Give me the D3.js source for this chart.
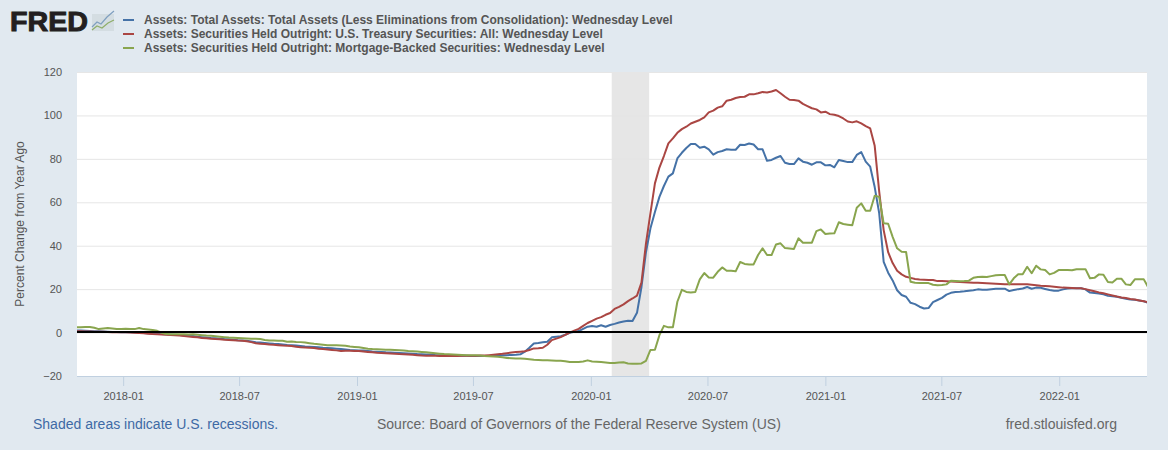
<!DOCTYPE html>
<html>
<head>
<meta charset="utf-8">
<script src="https://cdnjs.cloudflare.com/ajax/libs/d3/7.8.5/d3.min.js"></script>
<style>
html,body{margin:0;padding:0;background:#e1e9f0;}
svg{display:block;font-family:"Liberation Sans",Arial,sans-serif;}
</style>
</head>
<body>
<svg id="c" width="1168" height="450"></svg>
<script>
const firstWeek = "2017-10-20";
const weekCount = 240;
const domainDates = ["2017-10-21", "2022-05-18"];
const recession = ["2020-02-01", "2020-04-01"];
const xTickLabels = ["2018-01","2018-07","2019-01","2019-07","2020-01","2020-07","2021-01","2021-07","2022-01"];
const yTicks = [-20,0,20,40,60,80,100,120];
const seriesNames = [
 "Assets: Total Assets: Total Assets (Less Eliminations from Consolidation): Wednesday Level",
 "Assets: Securities Held Outright: U.S. Treasury Securities: All: Wednesday Level",
 "Assets: Securities Held Outright: Mortgage-Backed Securities: Wednesday Level"];
const seriesColors = ["#4572a7","#aa4643","#89a54e"];

const totalAssets = [
0.9,0.9,0.8,0.7,0.6,0.6,0.5,0.4,0.3,0.3,
0.2,0.1,0.1,0,-0.1,-0.2,-0.3,-0.5,-0.6,-0.7,
-0.8,-0.9,-1.0,-1.1,-1.3,-1.4,-1.6,-1.9,-2.1,-2.3,
-2.5,-2.6,-2.8,-3,-3.1,-3.3,-3.5,-3.6,-3.8,-4.1,
-4.4,-4.6,-4.8,-5,-5.2,-5.3,-5.5,-5.7,-5.8,-6,
-6.2,-6.4,-6.5,-6.6,-6.8,-7,-7.1,-7.2,-7.4,-7.6,
-7.8,-8,-8.1,-8.2,-8.3,-8.5,-8.7,-8.8,-8.9,-9.1,
-9.2,-9.3,-9.4,-9.5,-9.6,-9.7,-9.9,-10,-10.1,-10.1,
-10.3,-10.4,-10.5,-10.5,-10.6,-10.6,-10.7,-10.7,-10.8,-10.8,
-10.8,-10.8,-10.8,-10.7,-10.6,-10.5,-10.4,-10.3,-10.2,-10,
-8.8,-7,-5,-4.8,-4.5,-4.2,-2.2,-1.9,-1.7,-1,
-0.1,0.4,0.7,1.7,2.7,3,2.7,3.4,2.7,3.5,
4,4.6,5.1,5.4,5.3,9.1,21,37,48,55.5,
62.5,67.5,71.8,73.3,80.2,82.8,85,86.8,86.8,85.1,
85.6,84.4,81.9,83.1,83.6,84.4,84.2,84.2,86.5,86.4,
87.1,86.6,84.4,84.4,79.1,79.5,80.5,81.3,78.2,77.6,
77.6,80.2,78.7,78.2,77.3,78.4,78.4,77,77.2,76.1,
79.5,79,78.5,78.5,81.8,83.1,78.7,76.4,67,55,
32.6,27.6,24,19.5,17.3,16.5,13.7,13.1,11.9,11.1,
11.3,14,15,16,17.5,18.3,18.7,18.8,19,19.3,
19.5,19.9,19.7,19.7,20,20.2,20.2,20.2,19.1,19.6,
20,20.3,21,20.2,20.7,20.6,20.1,19.6,19.3,19.3,
19.9,20.3,20.4,20.4,20.4,19.9,18.4,18.2,18,17.6,
16.9,16.7,16.5,16,15.6,15.2,15.1,14.8,14.4,13.6];

const treasury = [
0.6,0.6,0.5,0.5,0.4,0.4,0.4,0.3,0.2,0.2,
0.1,0.1,0,-0.1,-0.2,-0.3,-0.5,-0.7,-0.8,-0.9,
-1,-1.1,-1.2,-1.3,-1.6,-1.8,-2,-2.2,-2.5,-2.6,
-2.8,-3,-3.1,-3.3,-3.4,-3.5,-3.7,-3.8,-4,-4.4,
-4.9,-5.1,-5.3,-5.5,-5.6,-5.8,-6,-6.1,-6.2,-6.5,
-6.8,-6.9,-7,-7.1,-7.4,-7.6,-7.8,-8,-8.2,-8.5,
-8.4,-8.4,-8.5,-8.5,-8.7,-8.9,-9.1,-9.3,-9.4,-9.5,
-9.6,-9.7,-9.9,-10,-10.1,-10.2,-10.4,-10.6,-10.7,-10.7,
-10.7,-10.8,-10.8,-10.8,-10.8,-10.8,-10.7,-10.7,-10.7,-10.7,
-10.6,-10.6,-10.4,-10.2,-10,-9.8,-9.5,-9.2,-9,-8.8,
-8.6,-8,-7.3,-7.2,-7,-5.6,-3.5,-2.8,-2.1,-1.1,
0,0.9,1.7,3.1,4.4,5.4,6.4,7.1,8.2,9,
10.9,11.8,13,14.5,15.7,17,23,41,55,68.7,
76,81.3,87.1,89.4,92,93.7,94.8,96.3,97.1,97.9,
99.1,101.4,102.2,103.6,104.2,106.8,107.2,108,108.5,108.6,
109.7,109.7,110.2,110.8,110.6,111,111.7,110.2,108.6,107.2,
107.1,106.8,105.3,104.3,103.3,102.8,101.4,101.7,100.6,100.3,
99.7,98.6,97.2,96.8,97.3,96.3,95.1,94,86,65,
47.2,37,32,28.5,26.8,25.7,25.2,24.7,24.4,24.3,
24.2,24.2,23.7,23.7,23.6,23.5,23.4,23.3,23.2,23.1,
23,22.9,22.8,22.7,22.6,22.5,22.4,22.3,22.3,22.3,
22.2,22.2,22.2,22,21.8,21.6,21.5,21.3,21.1,20.9,
20.7,20.6,20.5,20.4,20.4,20,19.5,19,18.5,18.1,
17.6,17.1,16.6,16.2,15.9,15.5,15.2,14.8,14.4,13.9];

const mortgage = [
2.4,2.5,2.6,2.6,2.2,1.6,1.9,2.1,1.9,1.6,
1.7,1.8,1.7,1.6,2.1,1.6,1.4,1.2,0.8,-0.1,
-0.7,-0.8,-0.8,-0.8,-0.8,-0.9,-0.8,-1,-1.2,-1.4,
-1.5,-1.7,-1.9,-2.1,-2.3,-2.4,-2.5,-2.6,-2.7,-2.8,
-2.9,-3,-3.4,-3.7,-3.7,-3.8,-3.8,-4.2,-4.1,-4.3,
-4.4,-4.6,-4.9,-5.2,-5.4,-5.6,-5.8,-5.8,-5.8,-5.9,
-6.1,-6.4,-6.6,-6.8,-7.1,-7.4,-7.6,-7.7,-7.8,-7.9,
-7.9,-8,-8.1,-8.3,-8.5,-8.6,-8.7,-8.9,-9.1,-9.3,
-9.5,-9.7,-9.9,-10,-10.1,-10.2,-10.3,-10.4,-10.4,-10.5,
-10.6,-10.8,-10.9,-11,-11.1,-11.4,-11.7,-11.8,-11.9,-11.9,
-12.1,-12.3,-12.5,-12.6,-12.7,-12.8,-12.9,-13,-13,-13.2,
-13.6,-13.6,-13.5,-13.3,-12.8,-13.3,-13.4,-13.6,-13.8,-14,
-14,-13.8,-13.7,-14.2,-14.4,-14.4,-14.2,-13,-8,-7.9,
-1.2,3.1,2.4,2.4,14.2,19.7,18.7,18.5,18.7,24.5,
27.4,25.4,25.3,28,30,28.5,28.5,28.2,32.5,31.6,
31.4,31.4,35.7,38.8,35.7,35.7,40.6,41.1,38.9,38.7,
38.5,43.4,41.4,41.4,41.4,46.7,47.5,45.4,45.6,45.7,
50.8,50,49.7,49.4,57.5,59.5,56.1,56.1,63,62.5,
50.3,50.1,44.1,38.8,37.2,37.1,23.4,22.9,22.8,22.8,
22.8,22,21.8,21.9,22.2,23.9,23.8,23.6,23.7,23.9,
25.2,25.6,25.7,25.6,26,26.4,26.5,26.5,22.2,25,
26.9,26.9,30.3,27.3,30.8,29.1,28.8,26.8,27.5,28.8,
28.8,28.8,28.7,29.2,29.2,29.2,25,25.2,26.8,26.6,
23.3,23.1,24.8,24.8,22.2,21.9,24.5,24.5,24.5,20.8];

const allSeries = [totalAssets, treasury, mortgage];
const parse = d3.utcParse("%Y-%m-%d");
const weeks = d3.range(weekCount).map(i => d3.utcDay.offset(parse(firstWeek), 7*i));

const plot = {l:77, r:1147, t:72, b:376};
const svg = d3.select("#c");
const x = d3.scaleUtc().domain(domainDates.map(parse)).range([plot.l, plot.r]);
const y = d3.scaleLinear().domain([-20,120]).range([plot.b, plot.t]);

svg.append("rect").attr("x",plot.l).attr("y",plot.t).attr("width",plot.r-plot.l).attr("height",plot.b-plot.t).attr("fill","#fff");
svg.append("defs").append("clipPath").attr("id","pc").append("rect")
  .attr("x",plot.l).attr("y",plot.t-2).attr("width",plot.r-plot.l).attr("height",plot.b-plot.t+2);

// recession
svg.append("rect").attr("x",x(parse(recession[0]))+1).attr("y",plot.t)
  .attr("width",x(parse(recession[1]))-x(parse(recession[0]))-1).attr("height",plot.b-plot.t).attr("fill","#e6e6e6");

// y axis (gridlines and labels)
const yAxis = d3.axisLeft(y).tickValues(yTicks).tickSize(-(plot.r-plot.l)).tickPadding(15).tickFormat(d3.format("d"));
const gy = svg.append("g").attr("transform",`translate(${plot.l},0)`).call(yAxis);
gy.select(".domain").remove();
gy.selectAll("line").attr("stroke","#e6e6e6").attr("stroke-width",1);
gy.selectAll("text").attr("fill","#555").attr("font-size",11).attr("font-family","'Liberation Sans',Arial,sans-serif");
gy.selectAll(".tick").filter(d=>d===-20).select("line").remove();

// x axis
const xAxis = d3.axisBottom(x).tickValues(xTickLabels.map(s=>parse(s+"-01"))).tickSize(10).tickPadding(6).tickFormat(d3.utcFormat("%Y-%m"));
const gx = svg.append("g").attr("transform",`translate(0,${plot.b})`).call(xAxis);
gx.select(".domain").attr("d",`M${plot.l},0.5H${plot.r}`).attr("stroke","#c0d0e0");
gx.selectAll("line").attr("stroke","#c0d0e0");
gx.selectAll("text").attr("fill","#555").attr("font-size",11).attr("font-family","'Liberation Sans',Arial,sans-serif");

// series
const line = d3.line().x((d,i)=>x(weeks[i])).y(d=>y(d));
const marks = svg.append("g").attr("clip-path","url(#pc)");
allSeries.forEach((s,k)=>{
  marks.append("path").attr("d",line(s)).attr("fill","none").attr("stroke",seriesColors[k]).attr("stroke-width",2).attr("stroke-linejoin","round");
});

// zero line
svg.append("line").attr("x1",plot.l).attr("x2",plot.r).attr("y1",y(0)-0.5).attr("y2",y(0)-0.5).attr("stroke","#000").attr("stroke-width",2);

// y title
svg.append("text").attr("transform","translate(24,224) rotate(-90)").attr("text-anchor","middle")
  .attr("font-size",12).attr("fill","#555").text("Percent Change from Year Ago");

// legend
const legendY = [20,34,48];
seriesNames.forEach((n,k)=>{
  svg.append("line").attr("x1",123).attr("x2",134).attr("y1",legendY[k]).attr("y2",legendY[k]).attr("stroke",seriesColors[k]).attr("stroke-width",2);
  svg.append("text").attr("x",144).attr("y",legendY[k]+4).attr("font-size",12).attr("font-weight","bold").attr("fill","#555").text(n);
});

// logo
svg.append("text").attr("x",10).attr("y",31).attr("font-size",28).attr("font-weight","bold").attr("fill","#231f20").attr("stroke","#231f20").attr("stroke-width",1).attr("textLength",78).attr("lengthAdjust","spacingAndGlyphs").text("FRED");
const logo = svg.append("g");
logo.append("rect").attr("x",92).attr("y",14).attr("width",22).attr("height",17).attr("fill","#d4dde2");
logo.append("polyline").attr("points","92,27 97,22 101,24 107,17 114,11").attr("fill","none").attr("stroke","#7f9fbf").attr("stroke-width",1.2);
logo.append("polyline").attr("points","92,30 97,26 102,28 108,23 114,20").attr("fill","none").attr("stroke","#8fae6a").attr("stroke-width",1.2);

// footer
svg.append("text").attr("x",33).attr("y",429).attr("font-size",14).attr("fill","#3e6aa5").text("Shaded areas indicate U.S. recessions.");
svg.append("text").attr("x",377).attr("y",429).attr("font-size",14).attr("fill","#666").text("Source: Board of Governors of the Federal Reserve System (US)");
svg.append("text").attr("x",1117).attr("y",429).attr("text-anchor","end").attr("font-size",14).attr("fill","#666").text("fred.stlouisfed.org");
</script>
</body>
</html>
